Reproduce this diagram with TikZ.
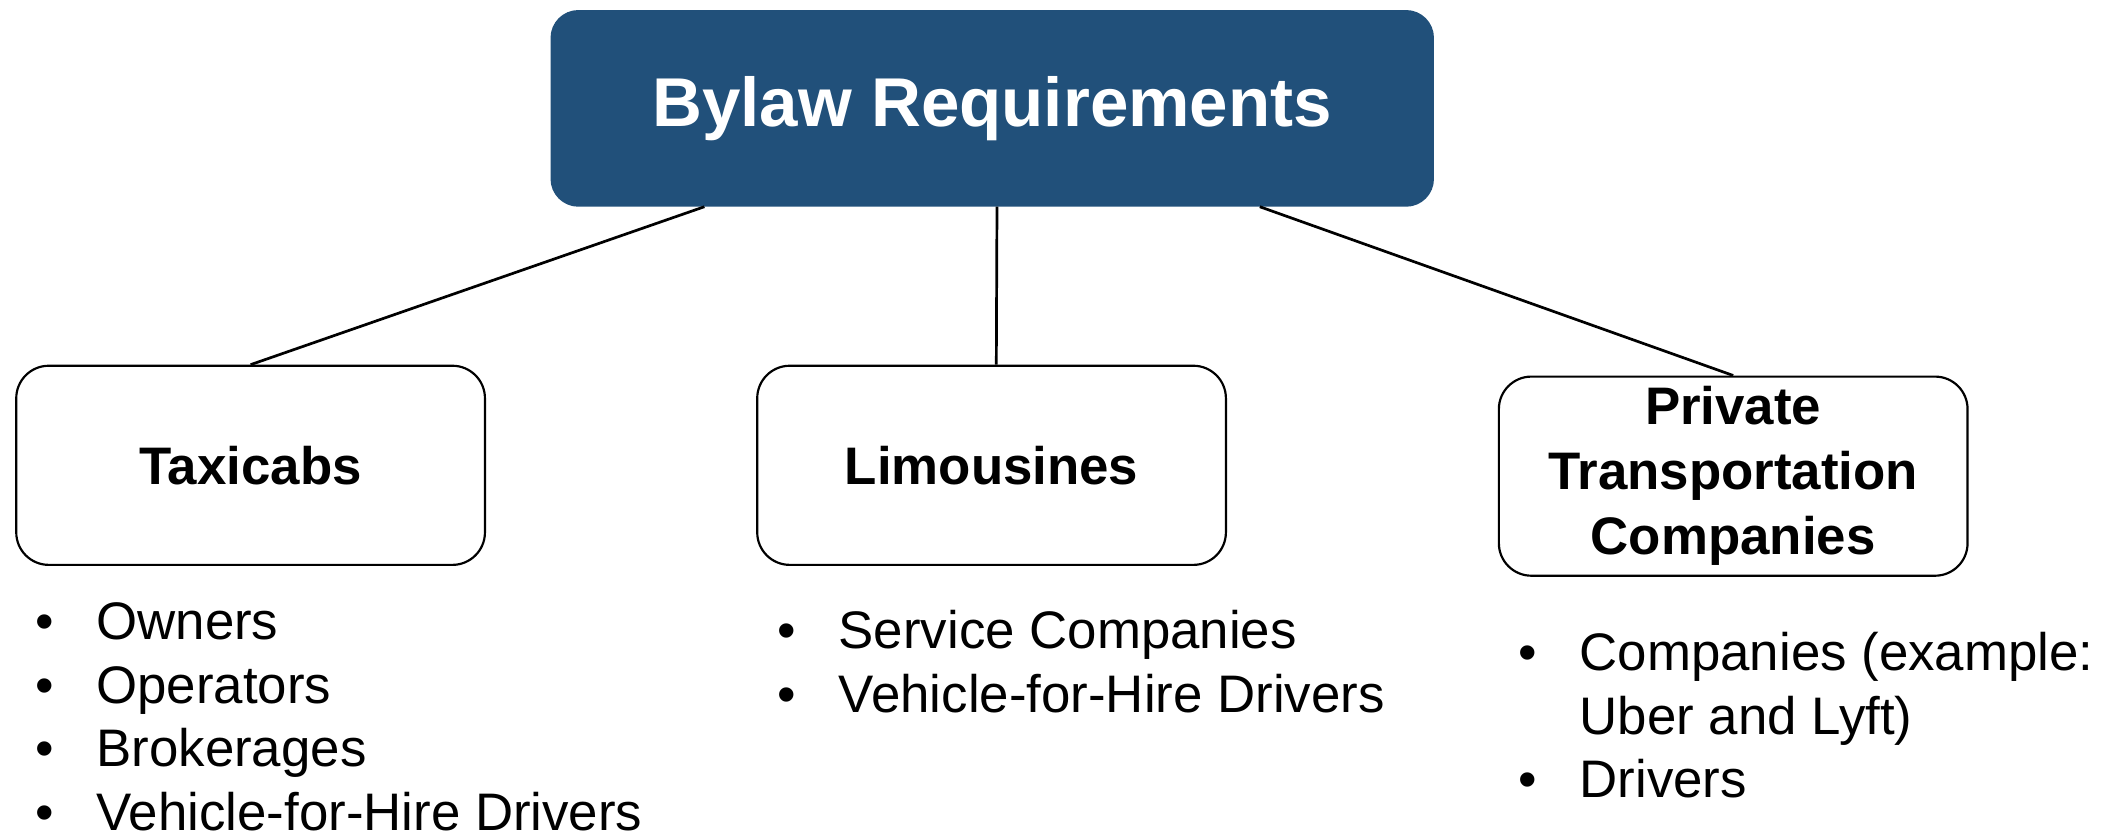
\documentclass[tikz,border=0pt]{standalone}
\usepackage{fontspec}
\setmainfont{Liberation Sans}
\definecolor{topblue}{RGB}{33,80,122}
\begin{document}
\begin{tikzpicture}[x=1pt,y=-1pt,
  topbox/.style={draw=topblue,line width=1.2pt,fill=topblue,rounded corners=20pt,minimum width=651pt,minimum height=144pt,inner sep=0pt,text=white,font=\fontsize{51}{60}\selectfont\bfseries},
  catbox/.style={draw=black,line width=1.6pt,fill=white,rounded corners=24pt,minimum width=346pt,minimum height=147pt,inner sep=0pt,align=center,font=\fontsize{39}{48}\selectfont\bfseries},
  conn/.style={draw=black,line width=2pt},
  blist/.style={anchor=base west,inner sep=0pt,font=\fontsize{39}{47}\selectfont}
]
\useasboundingbox (0,0) rectangle (1568,614);
\fill[white] (0,0) rectangle (1568,614);
\node[topbox] (top) at (732.5,80) {Bylaw Requirements};
\node[catbox] (taxi) at (185,343.5) {Taxicabs};
\node[catbox] (limo) at (732,343.5) {Limousines};
\node[catbox] (ptc) at (1279.5,351.5) {Private\\Transportation\\Companies};
\draw[conn] ([xshift=-212.5pt]top.south) -- (taxi.north);
\draw[conn] ([xshift=3.5pt]top.south) -- ([xshift=3.5pt]limo.north);
\draw[conn] ([xshift=197.5pt]top.south) -- (ptc.north);
\node[blist] (taxilist) at (26,472) {\begin{tabular}[t]{@{}l@{}l@{}}
\makebox[45pt][l]{•} & Owners\\
\makebox[45pt][l]{•} & Operators\\
\makebox[45pt][l]{•} & Brokerages\\
\makebox[45pt][l]{•} & Vehicle-for-Hire Drivers
\end{tabular}};
\node[blist] (limolist) at (574,479) {\begin{tabular}[t]{@{}l@{}l@{}}
\makebox[45pt][l]{•} & Service Companies\\
\makebox[45pt][l]{•} & Vehicle-for-Hire Drivers
\end{tabular}};
\node[blist] (ptclist) at (1121,495) {\begin{tabular}[t]{@{}l@{}l@{}}
\makebox[45pt][l]{•} & Companies (example:\\
 & Uber and Lyft)\\
\makebox[45pt][l]{•} & Drivers
\end{tabular}};
\end{tikzpicture}
\end{document}
